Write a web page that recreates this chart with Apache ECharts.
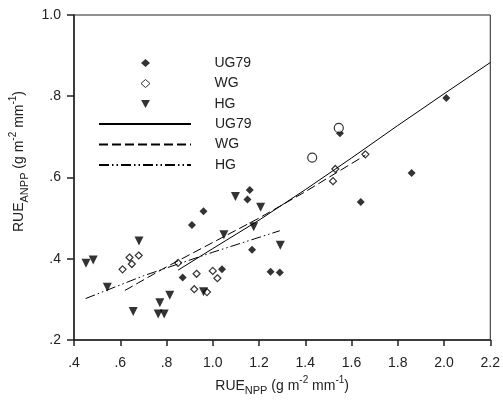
<!DOCTYPE html>
<html>
<head>
<meta charset="utf-8">
<script src="https://cdn.jsdelivr.net/npm/echarts@6/dist/echarts.min.js"></script>
<style>
  html, body { margin: 0; padding: 0; background: #fff; }
  #main { width: 503px; height: 408px; }
</style>
</head>
<body>
<div id="main"></div>
<script>
// observed points
var ug79X = [2.01, 1.55, 1.86, 1.64, 1.16, 1.15, 0.96, 0.91, 1.17, 1.04, 0.87, 1.25, 1.29];
var ug79Y = [0.796, 0.709, 0.611, 0.540, 0.569, 0.546, 0.517, 0.483, 0.422, 0.374, 0.354, 0.368, 0.366];
var wgX = [1.545, 1.43, 1.66, 1.53, 1.52, 0.85, 0.93, 0.92, 1.00, 1.02, 0.975, 0.68, 0.64, 0.65, 0.61];
var wgY = [0.722, 0.649, 0.657, 0.621, 0.591, 0.390, 0.363, 0.325, 0.370, 0.352, 0.318, 0.408, 0.403, 0.387, 0.374];
var wgRound = [0, 1]; // these two are drawn as circles
var hgX = [0.452, 0.483, 0.544, 0.681, 0.656, 0.771, 0.814, 0.764, 0.790, 0.960, 1.048, 1.098, 1.207, 1.177, 1.292];
var hgY = [0.389, 0.397, 0.330, 0.444, 0.270, 0.292, 0.310, 0.264, 0.264, 0.319, 0.459, 0.553, 0.527, 0.479, 0.433];

// fitted lines
var ugFitX = [0.85, 1.0, 1.2, 1.4, 1.6, 1.8, 2.0, 2.2];
var ugFitY = [0.372, 0.425, 0.495, 0.570, 0.648, 0.728, 0.806, 0.883];
var wgFitX = [0.62, 0.8, 1.0, 1.2, 1.4, 1.66];
var wgFitY = [0.322, 0.380, 0.440, 0.500, 0.565, 0.655];
var hgFitX = [0.45, 0.7, 1.0, 1.29];
var hgFitY = [0.302, 0.358, 0.416, 0.469];

var xTickLabels = ['.4', '.6', '.8', '1.0', '1.2', '1.4', '1.6', '1.8', '2.0', '2.2'];
var yTickLabels = ['.2', '.4', '.6', '.8', '1.0'];

function pairs(xs, ys) {
  return xs.map(function (x, i) { return [x, ys[i]]; });
}

var chart = echarts.init(document.getElementById('main'), null, { renderer: 'canvas' });

var font = 'Liberation Sans, Arial, sans-serif';
var textColor = '#222';
var rich = {
  m: { fontSize: 14, fontFamily: font, color: textColor, lineHeight: 22 },
  sub: { fontSize: 11, fontFamily: font, color: textColor, verticalAlign: 'bottom', lineHeight: 22 },
  sup: { fontSize: 10, fontFamily: font, color: textColor, verticalAlign: 'top', lineHeight: 22 }
};
var legendText = { fontFamily: font, fontSize: 14, color: textColor };

var wgData = pairs(wgX, wgY).map(function (p, i) {
  if (wgRound.indexOf(i) >= 0) {
    return { value: p, symbol: 'circle', symbolSize: 9 };
  }
  return p;
});

var option = {
  animation: false,
  grid: {
    left: 74,
    right: 12,
    top: 15,
    bottom: 68,
    show: true,
    borderColor: '#222',
    borderWidth: 1
  },
  legend: [
    {
      // marker entries
      orient: 'vertical',
      left: 135.5,
      top: 51,
      itemWidth: 9,
      itemHeight: 8,
      itemGap: 6.5,
      textStyle: Object.assign({ padding: [0, 0, 0, 59.5] }, legendText),
      data: [
        { name: 'UG79' },
        { name: 'WG', itemStyle: { borderWidth: 1 } },
        { name: 'HG', icon: 'path://M0,0 L10,0 L5,9 Z' }
      ]
    },
    {
      // fitted line entries
      orient: 'vertical',
      left: 93,
      top: 112,
      itemWidth: 92,
      itemHeight: 8,
      itemGap: 6.5,
      textStyle: Object.assign({ padding: [0, 0, 0, 19] }, legendText),
      data: [
        { name: 'UG79 ', itemStyle: { opacity: 0 } },
        { name: 'WG ', itemStyle: { opacity: 0 } },
        { name: 'HG ', itemStyle: { opacity: 0 } }
      ],
      formatter: function (n) { return n.trim(); }
    }
  ],
  xAxis: {
    type: 'value',
    min: 0.4,
    max: 2.2,
    interval: 0.2,
    splitLine: { show: false },
    axisLine: { lineStyle: { color: '#222', width: 1.5 } },
    axisTick: { length: 6, lineStyle: { color: '#222', width: 1.5 } },
    axisLabel: {
      margin: 16,
      fontFamily: font,
      fontSize: 14,
      color: textColor,
      formatter: function (v, i) { return xTickLabels[i]; }
    },
    name: '{m|RUE}{sub|NPP}{m| (g m}{sup|-2}{m| mm}{sup|-1}{m|)}',
    nameLocation: 'middle',
    nameGap: 30,
    nameTextStyle: { rich: rich }
  },
  yAxis: {
    type: 'value',
    min: 0.2,
    max: 1.0,
    interval: 0.2,
    splitLine: { show: false },
    axisLine: { lineStyle: { color: '#222', width: 1.5 } },
    axisTick: { length: 7, lineStyle: { color: '#222', width: 1.5 } },
    axisLabel: {
      margin: 13,
      fontFamily: font,
      fontSize: 14,
      color: textColor,
      formatter: function (v, i) { return yTickLabels[i]; }
    },
    name: '{m|RUE}{sub|ANPP}{m| (g m}{sup|-2}{m| mm}{sup|-1}{m|)}',
    nameLocation: 'middle',
    nameGap: 37,
    nameTextStyle: { rich: rich, padding: [0, 0, 0, 32] }
  },
  series: [
    {
      name: 'UG79',
      type: 'scatter',
      symbol: 'diamond',
      symbolSize: 8,
      itemStyle: { color: '#000' },
      data: pairs(ug79X, ug79Y)
    },
    {
      name: 'WG',
      type: 'scatter',
      symbol: 'diamond',
      symbolSize: 7,
      itemStyle: { color: '#fff', borderColor: '#000', borderWidth: 1.2 },
      data: wgData
    },
    {
      name: 'HG',
      type: 'scatter',
      symbol: 'triangle',
      symbolRotate: 180,
      symbolSize: 9,
      itemStyle: { color: '#000' },
      data: pairs(hgX, hgY)
    },
    {
      name: 'UG79 ',
      type: 'line',
      symbol: 'none',
      lineStyle: { color: '#000', width: 1 },
      data: pairs(ugFitX, ugFitY)
    },
    {
      name: 'WG ',
      type: 'line',
      symbol: 'none',
      lineStyle: { color: '#000', width: 1, type: [9, 4] },
      data: pairs(wgFitX, wgFitY)
    },
    {
      name: 'HG ',
      type: 'line',
      symbol: 'none',
      lineStyle: { color: '#000', width: 1, type: [10, 3, 1.5, 3, 1.5, 3] },
      data: pairs(hgFitX, hgFitY)
    }
  ]
};

chart.setOption(option);
</script>
</body>
</html>
